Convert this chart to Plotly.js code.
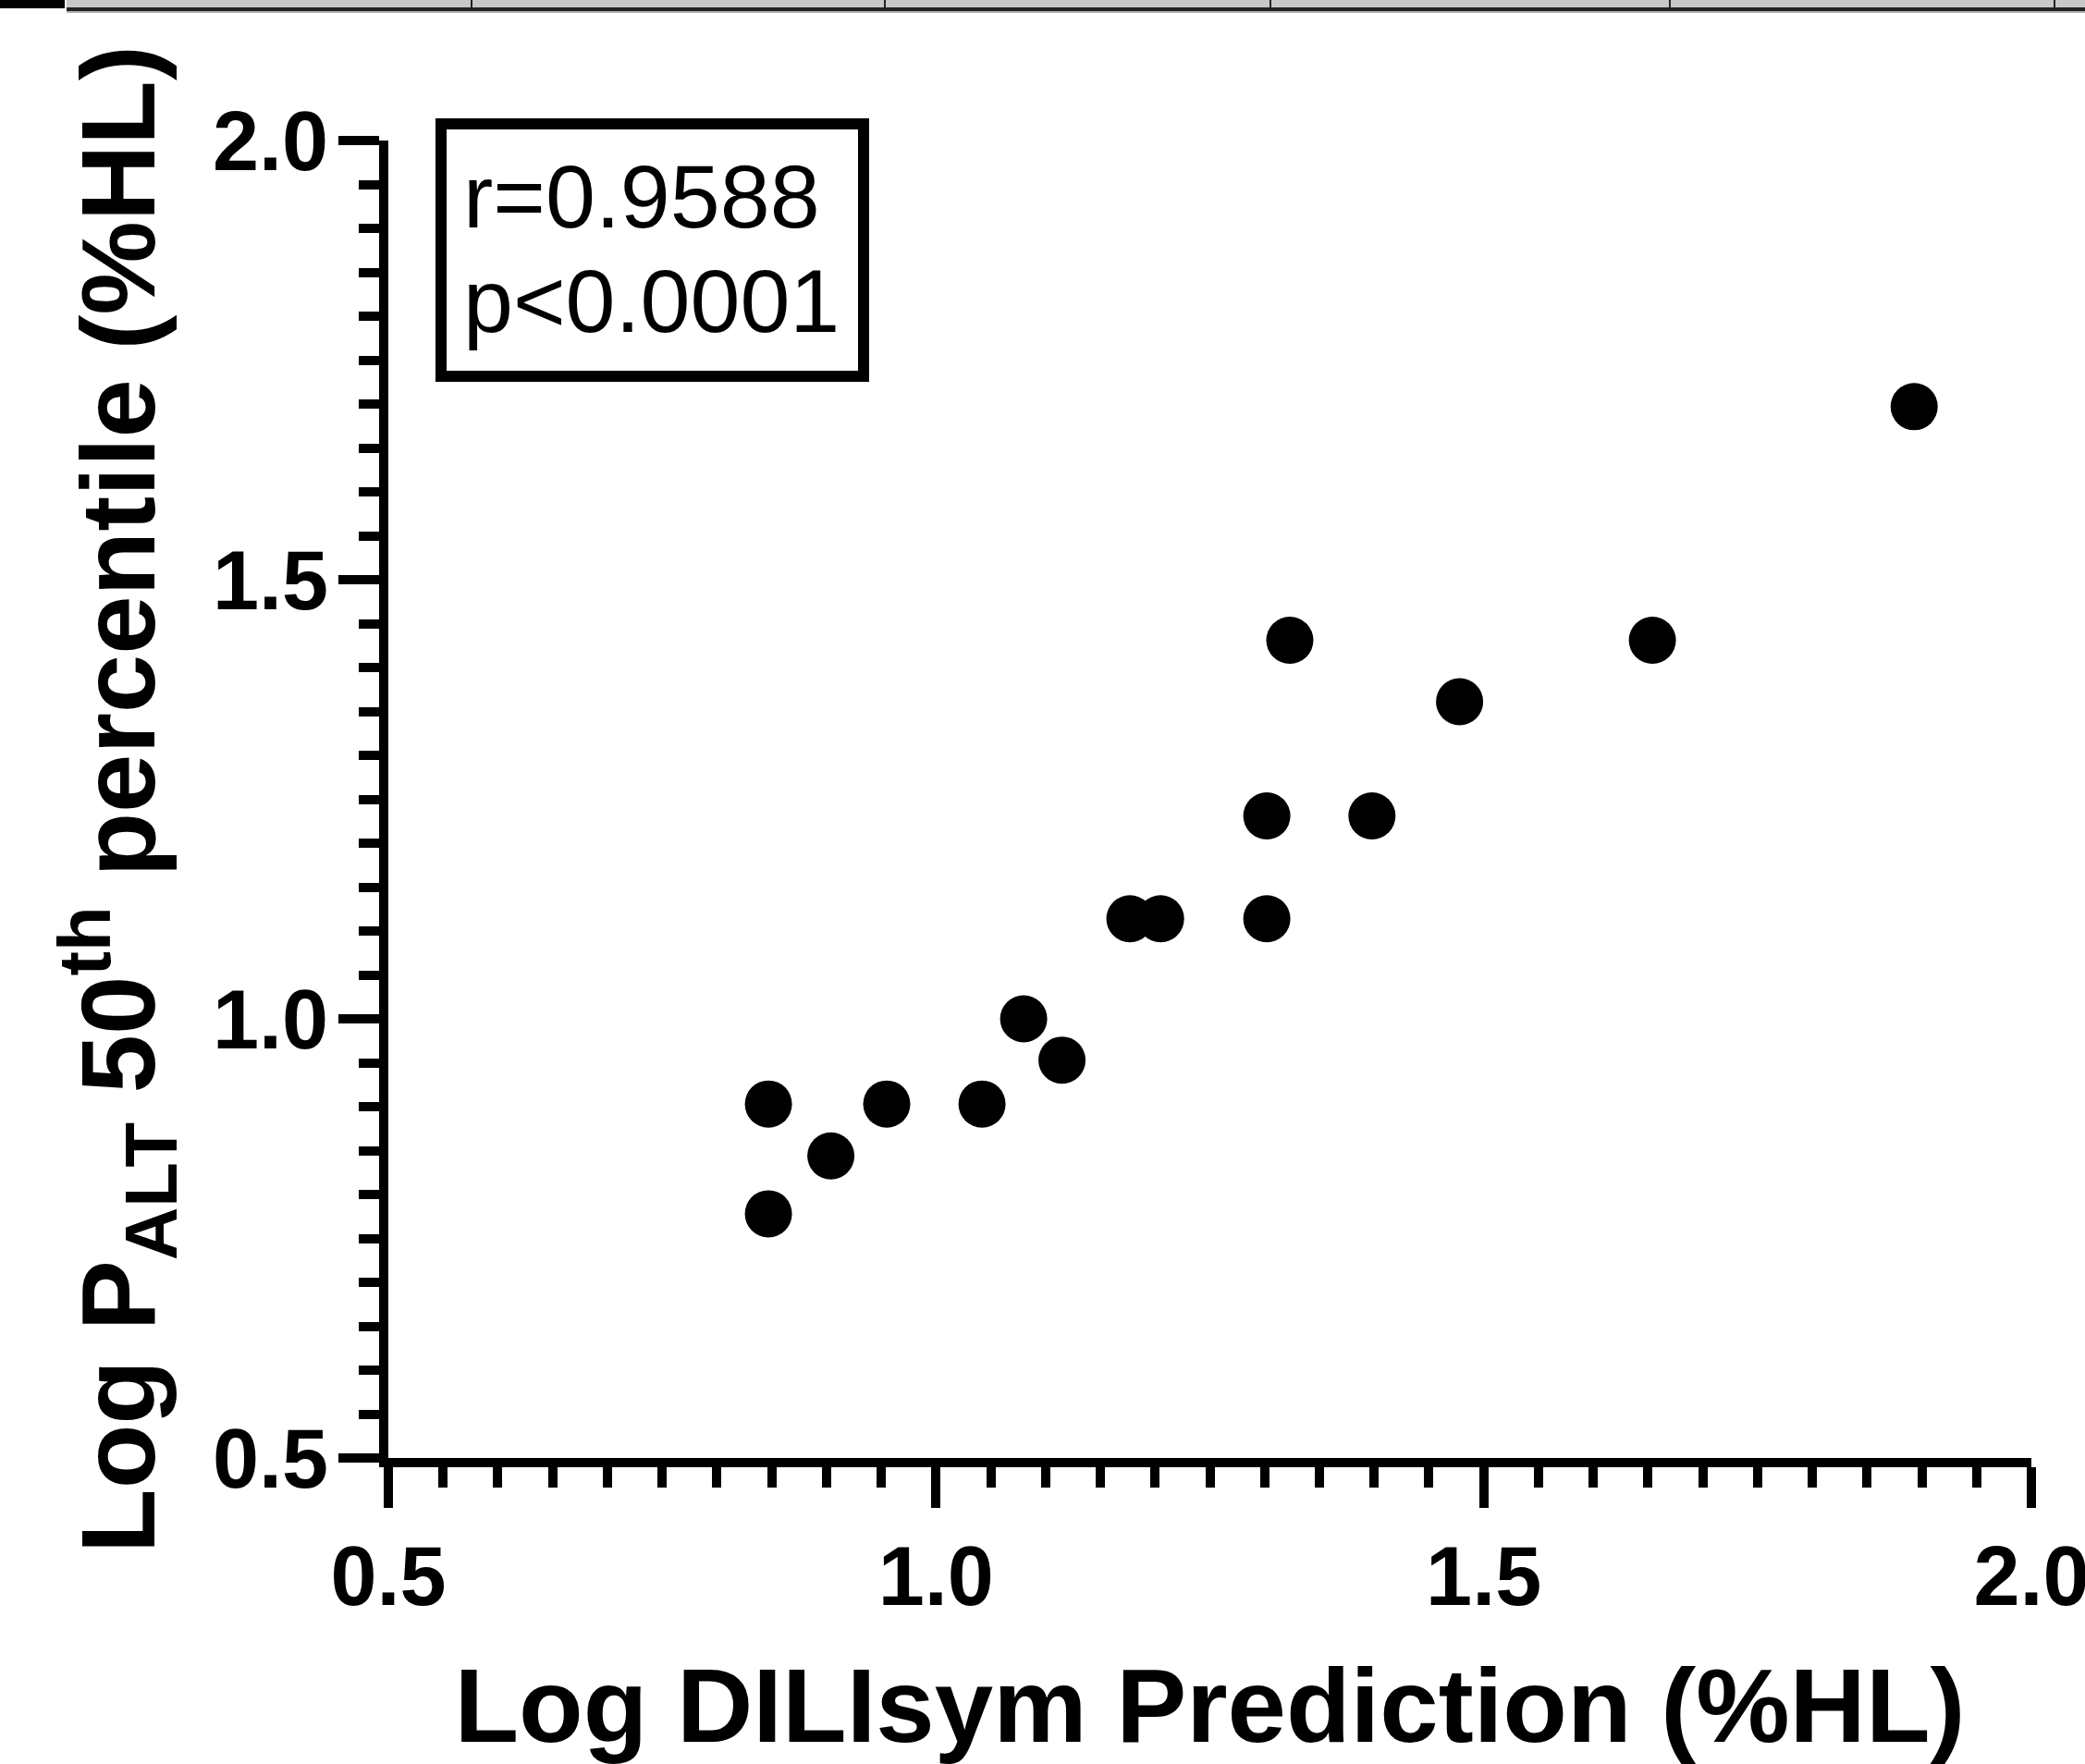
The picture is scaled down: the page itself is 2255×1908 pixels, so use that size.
<!DOCTYPE html>
<html>
<head>
<meta charset="utf-8">
<script src="https://cdn.plot.ly/plotly-3.0.1.min.js"></script>
<style>
  html, body { margin: 0; padding: 0; background: #ffffff; }
  #chart { width: 2255px; height: 1908px; }
</style>
</head>
<body>
<div id="chart"></div>
<script>
// Data (log10 values)
const logDILIsymPrediction = [1.893, 1.323, 1.654, 1.478, 1.302, 1.398, 1.177, 1.205, 1.302, 1.080, 1.115, 0.847, 0.955, 1.042, 0.904, 0.847];
const logPALT50 =            [1.697, 1.431, 1.431, 1.361, 1.231, 1.231, 1.114, 1.114, 1.114, 1.000, 0.953, 0.903, 0.903, 0.903, 0.844, 0.778];
const statLines = ["r=0.9588", "p&lt;0.0001"];

const W = 2255, H = 1908;
const M = { l: 420, r: 58, t: 152, b: 331 };
const PW = W - M.l - M.r, PH = H - M.t - M.b;
const px = v => (v - M.l) / PW;          // pixel x -> paper
const py = v => (H - M.b - v) / PH;      // pixel y -> paper

const FONT = "Liberation Sans, Arial, Helvetica, sans-serif";

const trace = {
  x: logDILIsymPrediction,
  y: logPALT50,
  type: "scatter",
  mode: "markers",
  marker: { color: "#000000", size: 51, line: { width: 0 } },
  hoverinfo: "skip",
  showlegend: false
};

const axisCommon = {
  showline: true, linecolor: "#000000", linewidth: 10,
  ticks: "outside", ticklen: 44, tickwidth: 10, tickcolor: "#000000",
  tick0: 0.5, dtick: 0.5, tickformat: ".1f",
  minor: { dtick: 0.05, tick0: 0.5, ticks: "outside", ticklen: 22, tickwidth: 10, tickcolor: "#000000", showgrid: false },
  showgrid: false, zeroline: false,
  ticklabeloverflow: "allow",
  tickfont: { family: FONT, size: 90, color: "#000000", weight: 700 },
  range: [0.5, 2.0], autorange: false, fixedrange: true
};

const layout = {
  width: W, height: H,
  margin: M,
  paper_bgcolor: "#ffffff", plot_bgcolor: "#ffffff",
  showlegend: false,
  xaxis: Object.assign({}, axisCommon, {
    ticklabelstandoff: -3,
    title: { text: "Log DILIsym Prediction (%HL)", font: { family: FONT, size: 114, color: "#000000", weight: 700 }, standoff: 68 }
  }),
  yaxis: Object.assign({}, axisCommon, {
    ticklabelstandoff: -7,
    title: { text: "Log P<sub>ALT</sub> 50<sup>th</sup> percentile (%HL)", font: { family: FONT, size: 114, color: "#000000", weight: 700 }, standoff: 28 }
  }),
  shapes: [
    // stats box
    { type: "rect", xref: "paper", yref: "paper", x0: px(477), x1: px(934), y0: py(407), y1: py(134),
      line: { color: "#000000", width: 12 }, fillcolor: "rgba(0,0,0,0)" },
    // top strip (cropped table edge)
    { type: "rect", xref: "paper", yref: "paper", x0: px(72), x1: px(2255), y0: py(8), y1: py(0),
      line: { width: 0 }, fillcolor: "#c8c8c8" },
    { type: "rect", xref: "paper", yref: "paper", x0: px(72), x1: px(2255), y0: py(12), y1: py(8),
      line: { width: 0 }, fillcolor: "#222222" },
    { type: "rect", xref: "paper", yref: "paper", x0: px(72), x1: px(2255), y0: py(14), y1: py(12),
      line: { width: 0 }, fillcolor: "#b0b0b0" },
    { type: "rect", xref: "paper", yref: "paper", x0: px(0), x1: px(70), y0: py(9), y1: py(0),
      line: { width: 0 }, fillcolor: "#000000" }
  ].concat([510, 957, 1374, 1806, 2222].map(x => ({
    type: "line", xref: "paper", yref: "paper", x0: px(x), x1: px(x), y0: py(12), y1: py(0),
    line: { color: "#222222", width: 2 }
  }))),
  annotations: statLines.map((t, i) => ({
    xref: "paper", yref: "paper", x: px(499), y: py(i === 0 ? 213 : 325),
    xanchor: "left", yanchor: "middle", showarrow: false, align: "left",
    text: t, font: { family: FONT, size: 97, color: "#000000" }
  }))
};

Plotly.newPlot("chart", [trace], layout, { staticPlot: true, displayModeBar: false });
</script>
</body>
</html>
